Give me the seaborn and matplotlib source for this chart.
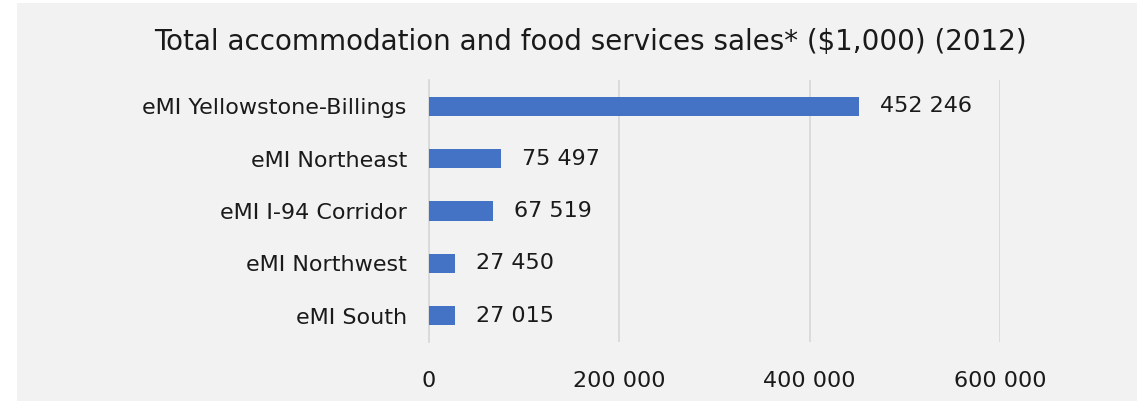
import matplotlib
matplotlib.use("Agg")
import matplotlib.pyplot as plt
import seaborn as sns
import pandas as pd
import numpy as np
from matplotlib.patches import Rectangle

categories = ["eMI Yellowstone-Billings", "eMI Northeast", "eMI I-94 Corridor",
              "eMI Northwest", "eMI South"]
values = [452246, 75497, 67519, 27450, 27015]
x_ticks = [0, 200000, 400000, 600000]
x_tick_labels = ["0", "200 000", "400 000", "600 000"]
title = "Total accommodation and food services sales* ($1,000) (2012)"

df = pd.DataFrame({"region": categories, "sales": values})

sns.set_theme(style="white")
plt.rcParams["font.family"] = ["DejaVu Sans"]

W, H = 1137, 401
fig = plt.figure(figsize=(W / 100, H / 100), dpi=100)
fig.patch.set_facecolor("white")
fig.patches.append(Rectangle((17 / W, 0), 1 - 17 / W, 1 - 3 / H, transform=fig.transFigure,
                             facecolor="#f2f2f2", edgecolor="none", zorder=-10))

ax = fig.add_axes([429 / W, 1 - 342 / H, (1000 - 429) / W, (342 - 80) / H])
ax.patch.set_alpha(0)

sns.barplot(data=df, y="region", x="sales", orient="h", color="#4472C4",
            width=0.37, saturation=1, linewidth=0, ax=ax, zorder=3)

ax.set_xlim(0, 600000)
ax.set_ylim(4.5, -0.5)
ax.set_xticks(x_ticks)
ax.set_xticklabels(x_tick_labels)
ax.set_xlabel("")
ax.set_ylabel("")
ax.xaxis.grid(True, color="#d9d9d9", linewidth=1.3, zorder=0)
ax.set_axisbelow(True)
for s in ["top", "right", "bottom"]:
    ax.spines[s].set_visible(False)
ax.spines["left"].set_color("#d9d9d9")
ax.spines["left"].set_linewidth(1.3)

txt = "#1a1a1a"
ax.tick_params(axis="x", length=0, pad=21, labelsize=16, labelcolor=txt)
ax.tick_params(axis="y", which="major", length=0, pad=16, labelsize=16, labelcolor=txt)
ax.set_yticks(np.arange(-0.5, 5, 1), minor=True)
ax.tick_params(axis="y", which="minor", length=6, width=1.3, color="#d9d9d9", direction="out")

for i, v in enumerate(values):
    ax.annotate(f"{v:,}".replace(",", " "), xy=(v, i), xytext=(21, 0),
                textcoords="offset pixels",
                va="center", ha="left", fontsize=16, color=txt)

fig.text(590 / W, 1 - 42 / H, title, ha="center", va="center", fontsize=20, color=txt)

fig.savefig("out.png", dpi=100, facecolor=fig.get_facecolor())
